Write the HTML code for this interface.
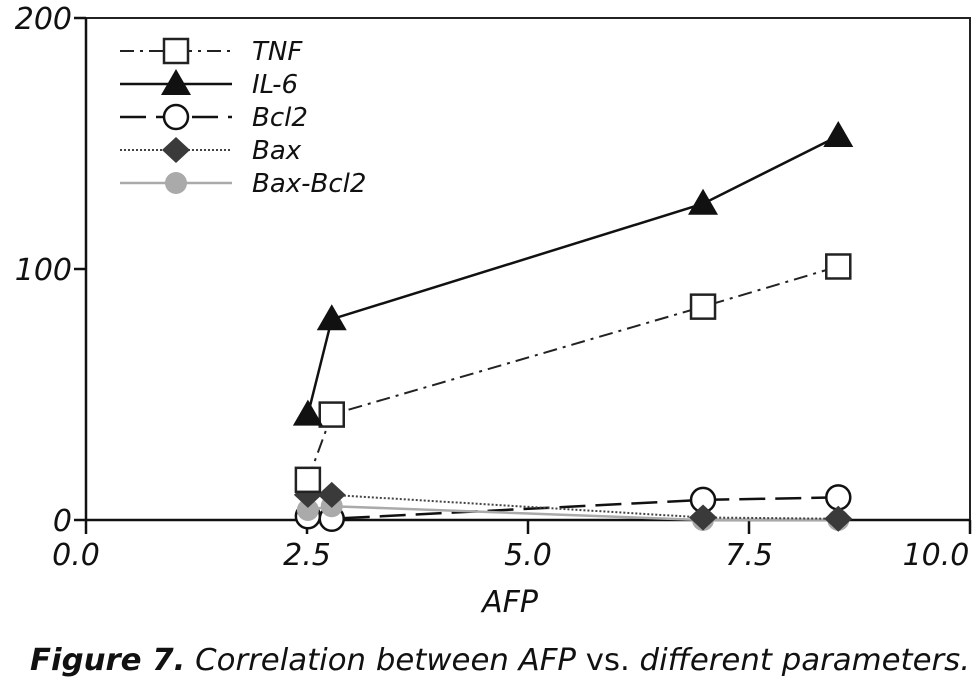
<!DOCTYPE html>
<html><head><meta charset="utf-8"><style>
body{margin:0;background:#fff;}
svg text{font-family:"DejaVu Sans","Liberation Sans",sans-serif;font-style:italic;fill:#111;}
</style></head><body>
<svg id="chart" width="974" height="687" viewBox="0 0 974 687">
<g id="frame"></g><g id="series"></g><g id="legend"></g>
<text x="500" y="670" text-anchor="middle" font-size="30" textLength="940" lengthAdjust="spacingAndGlyphs"><tspan font-weight="bold">Figure 7.</tspan> Correlation between AFP <tspan font-style="normal">vs.</tspan> different parameters.</text>
</svg>
<script>
const xTicks=[0,2.5,5,7.5,10];
const xTickLabels=["0.0","2.5","5.0","7.5","10.0"];
const yTicks=[0,100,200];
const yTickLabels=["0","100","200"];
const afp=[2.51,2.78,6.98,8.51];
const tnf=[16,42,85,101];
const il6=[42,80,126,153];
const bcl2=[1.5,0.5,8,9];
const bax=[10,10,1,0.5];
const baxBcl2=[4,5.5,0,0];
const X0=86,X1=970,Y0=520,Y1=18;
const sx=v=>X0+(v-0)/(10-0)*(X1-X0);
const sy=v=>Y0-(v-0)/(200-0)*(Y0-Y1);
const NS="http://www.w3.org/2000/svg";
function mk(tag,attrs,parent){const e=document.createElementNS(NS,tag);for(const k in attrs)e.setAttribute(k,attrs[k]);parent.appendChild(e);return e;}
const frame=document.getElementById('frame'),ser=document.getElementById('series'),leg=document.getElementById('legend');
let e;
e=mk('path',{d:`M${X0},${Y1} H${X1} V${Y0}`,fill:'none',stroke:'#222','stroke-width':2},frame);

e=mk('line',{x1:X0,y1:Y1,x2:X0,y2:Y0,stroke:'#111','stroke-width':2.5},frame);

e=mk('line',{x1:X0,y1:Y0,x2:X1,y2:Y0,stroke:'#111','stroke-width':2.5},frame);

xTicks.forEach((t,i)=>{
 e=mk('line',{x1:sx(t),y1:Y0,x2:sx(t),y2:Y0+14,stroke:'#111','stroke-width':2.5},frame);
 
 e=mk('text',{x:sx(t)-(i==0?10:(i==4?34:0)),y:565,'text-anchor':'middle','font-size':30},frame);
 e.textContent=xTickLabels[i];
 
});
yTicks.forEach((t,i)=>{
 e=mk('line',{x1:X0-12,y1:sy(t),x2:X0,y2:sy(t),stroke:'#111','stroke-width':2.5},frame);
 
 e=mk('text',{x:X0-14,y:sy(t)+11,'text-anchor':'end','font-size':30},frame);
 e.textContent=yTickLabels[i];
 
});
e=mk('text',{x:510,y:612,'text-anchor':'middle','font-size':30},frame);e.textContent='AFP';

function marker(type,cx,cy,g){
 if(type=='sq')return mk('rect',{x:cx-12,y:cy-12,width:24,height:24,fill:'#fff',stroke:'#222','stroke-width':2.5},g);
 if(type=='tri')return mk('polygon',{points:`${cx},${cy-15} ${cx+15},${cy+11} ${cx-15},${cy+11}`,fill:'#111'},g);
 if(type=='circ')return mk('circle',{cx,cy,r:12,fill:'#fff',stroke:'#111','stroke-width':2.5},g);
 if(type=='dia')return mk('polygon',{points:`${cx},${cy-13} ${cx+14},${cy} ${cx},${cy+13} ${cx-14},${cy}`,fill:'#3a3a3a'},g);
 return mk('circle',{cx,cy,r:11,fill:'#aaa'},g);
}
const defs=[
 {n:'TNF',v:tnf,m:'sq',c:'#222',w:2,d:'14 6 3 6'},
 {n:'IL-6',v:il6,m:'tri',c:'#111',w:2.5,d:''},
 {n:'Bcl2',v:bcl2,m:'circ',c:'#111',w:2.5,d:'26 10'},
 {n:'Bax',v:bax,m:'dia',c:'#444',w:2,d:'2 2'},
 {n:'Bax-Bcl2',v:baxBcl2,m:'dot',c:'#aaa',w:2.5,d:''}
];
const order=[2,4,3,0,1];
order.forEach(k=>{const s=defs[k];
 const g=mk('g',{},ser);
 
 e=mk('polyline',{points:afp.map((x,i)=>sx(x)+','+sy(s.v[i])).join(' '),fill:'none',stroke:s.c,'stroke-width':s.w,'stroke-dasharray':s.d},g);
 
 afp.forEach((x,i)=>{e=marker(s.m,sx(x),sy(s.v[i]),g);
  });
});
defs.forEach((s,i)=>{const y=51+i*33;
 const g=mk('g',{},leg);
 
 mk('line',{x1:120,y1:y,x2:232,y2:y,stroke:s.c,'stroke-width':s.w,'stroke-dasharray':s.d},g);
 marker(s.m,176,y,g);
 e=mk('text',{x:252,y:y+9,'font-size':26},g);e.textContent=s.n;
});
</script>
</body></html>
